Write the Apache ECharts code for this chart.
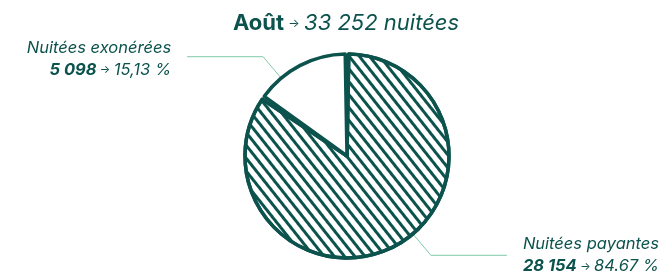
<!DOCTYPE html>
<html>
<head>
<meta charset="utf-8">
<script src="https://cdn.jsdelivr.net/npm/echarts@6/dist/echarts.min.js"></script>
<style>
  html, body { margin: 0; padding: 0; background: #fff; }
  #chart { width: 670px; height: 271px; }
</style>
</head>
<body>
<div id="chart"></div>
<script>
  // données
  const categories = ['Nuitées payantes', 'Nuitées exonérées']
  const values = [28154, 5098]
  const valueLabels = ['28 154', '5 098']
  const pctLabels = ['84.67 %', '15,13 %']
  const total = '33 252'
  const month = 'Août'

  const teal = '#0c524d'
  const center = [347, 156]
  const radius = 102
  const font = 'Inter, "Noto Sans", sans-serif'

  // angle du point d'ancrage des étiquettes (un peu décalé du milieu, comme le dessin)
  const sum = values.reduce((a, b) => a + b, 0)
  function anchorAngle(i) {
    let before = 0
    for (let k = 0; k < i; k++) before += values[k]
    return (before + values[i] / 2) / sum * 2 * Math.PI - 0.22
  }

  const chart = echarts.init(document.getElementById('chart'))

  chart.setOption({
    animation: false,
    textStyle: { fontFamily: font, color: teal },
    title: {
      left: 341,
      textAlign: 'center',
      top: 7,
      text: '{b|' + month + '} {a|→} {i|' + total + ' nuitées}',
      textStyle: {
        rich: {
          b: { fontSize: 22, fontWeight: 'bold', color: teal, fontFamily: font },
          a: { fontSize: 12, fontWeight: 'normal', color: teal, fontFamily: font },
          i: { fontSize: 22, fontWeight: 'normal', fontStyle: 'italic', color: teal, fontFamily: font },
        }
      }
    },
    series: [{
      type: 'pie',
      center: center,
      radius: [0, radius],
      startAngle: 90,
      padAngle: 2,
      avoidLabelOverlap: false,
      itemStyle: {
        color: '#fff',
        borderColor: teal,
        borderWidth: 3.5,
      },
      label: {
        show: true,
        position: 'outside',
        formatter: p => '{n|' + p.name + '}\n{v|' + valueLabels[p.dataIndex] + '} {a|→} {p|' + pctLabels[p.dataIndex] + '}',
        rich: {
          n: { fontSize: 16.5, fontStyle: 'italic', color: teal, lineHeight: 22 },
          v: { fontSize: 16.5, fontStyle: 'italic', fontWeight: 'bold', color: teal, lineHeight: 22 },
          a: { fontSize: 11, color: teal, lineHeight: 22 },
          p: { fontSize: 16.5, fontStyle: 'italic', color: teal, lineHeight: 22 },
        }
      },
      labelLine: {
        show: true,
        lineStyle: { color: '#7fcaa9', width: 1 }
      },
      labelLayout: params => {
        const a = anchorAngle(params.dataIndex)
        const sx = Math.sin(a), sy = -Math.cos(a)
        const p0 = [center[0] + radius * sx, center[1] + radius * sy]
        const p1 = [p0[0] + 28 * sx, p0[1] + 28 * sy]
        const dir = sx < 0 ? -1 : 1
        const p2 = [p1[0] + 76 * dir, p1[1]]
        return {
          x: p2[0] + 16 * dir,
          y: p2[1] + (dir < 0 ? 2 : 0),
          align: dir < 0 ? 'right' : 'left',
          verticalAlign: 'middle',
          labelLinePoints: [p0, p1, p2]
        }
      },
      emphasis: { disabled: true },
      data: [
        {
          name: categories[0], value: values[0],
          itemStyle: {
            decal: {
              symbol: 'rect',
              symbolSize: 1,
              color: teal,
              dashArrayX: [1, 0],
              dashArrayY: [3, 5],
              rotation: 0.9,
            }
          }
        },
        { name: categories[1], value: values[1] }
      ]
    }]
  })
</script>
</body>
</html>
